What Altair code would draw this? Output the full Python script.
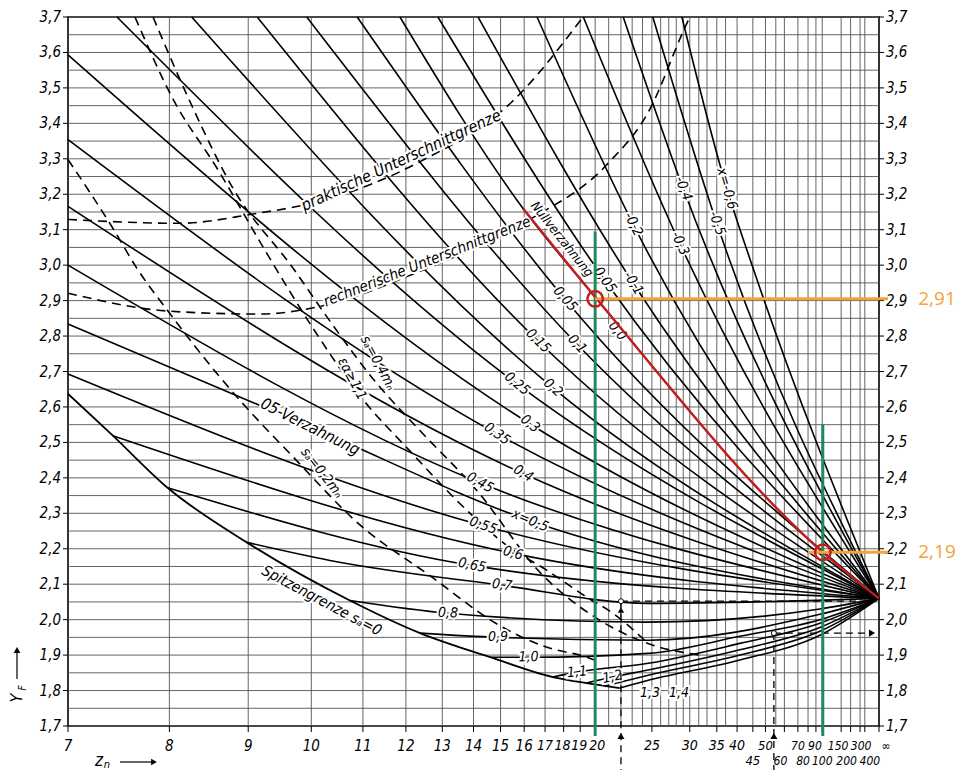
import math
import altair as alt
import pandas as pd

INF = math.inf
W, H = 811, 709
FONT = "DejaVu Sans Condensed, Liberation Sans Narrow, Liberation Sans, sans-serif"
GRID = "#555555"
RED = "#c41e1e"
GREEN = "#1f8a5c"
ORANGE = "#f2a33a"

# ---------------- data ----------------
LINE_X = [-0.6, -0.5, -0.4, -0.3, -0.2, -0.1, -0.05, 0.0, 0.05, 0.1, 0.15, 0.2, 0.25,
          0.3, 0.35, 0.4, 0.45, 0.5, 0.55, 0.6, 0.65, 0.7, 0.8, 0.9, 1.0, 1.1, 1.2, 1.3, 1.4]
LINE_Z = [
    [28.8, 37.3, 45.1, INF],
    [25.1, 35.0, INF],
    [22.2, 29.0, INF],
    [19.2, 28.5, INF],
    [16.6, 23.1, INF],
    [14.16, 23.1, INF],
    [12.87, 20.6, INF],
    [11.85, 15.95, 20.0, 101.0, INF],
    [10.88, 18.08, INF],
    [9.92, 18.8, INF],
    [9.13, 16.65, INF],
    [8.26, 17.41, INF],
    [7.45, 15.68, INF],
    [7.0, 16.27, INF],
    [7.0, 14.86, INF],
    [7.0, 15.95, INF],
    [7.0, 14.23, INF],
    [7.0, 9.98, 16.27, INF],
    [7.0, 14.34, INF],
    [7.41, 15.51, INF],
    [7.98, 13.95, INF],
    [8.98, 10.34, 15.06, 24.6, INF],
    [10.73, 13.17, 24.6, 96.0, INF],
    [12.37, 14.9, 24.6, 96.0, INF],
    [14.6, 16.2, 24.6, 40.8, 96.0, INF],
    [17.4, 18.8, 24.6, 40.8, 96.0, INF],
    [19.4, 21.3, 24.6, 40.8, 96.0, INF],
    [20.7, 24.6, 40.8, 96.0, INF],
    [21.9, 24.6, 40.8, 96.0, INF],
]
LINE_Y = [
    [3.70, 3.216, 2.991, 2.06],
    [3.70, 3.118, 2.06],
    [3.70, 3.216, 2.06],
    [3.70, 3.061, 2.06],
    [3.70, 3.115, 2.06],
    [3.70, 2.949, 2.06],
    [3.70, 2.963, 2.06],
    [3.70, 3.16, 2.91, 2.19, 2.06],
    [3.70, 2.904, 2.06],
    [3.70, 2.777, 2.06],
    [3.70, 2.786, 2.06],
    [3.70, 2.654, 2.06],
    [3.70, 2.665, 2.06],
    [3.593, 2.552, 2.06],
    [3.354, 2.524, 2.06],
    [3.166, 2.412, 2.06],
    [3.00, 2.386, 2.06],
    [2.834, 2.544, 2.279, 2.06],
    [2.693, 2.265, 2.06],
    [2.519, 2.187, 2.06],
    [2.372, 2.153, 2.06],
    [2.218, 2.167, 2.097, 2.046, 2.06],
    [2.054, 2.018, 1.993, 2.03, 2.06],
    [1.962, 1.950, 1.942, 2.015, 2.06],
    [1.894, 1.894, 1.905, 1.953, 2.00, 2.06],
    [1.838, 1.852, 1.877, 1.933, 1.99, 2.06],
    [1.821, 1.838, 1.858, 1.915, 1.978, 2.06],
    [1.813, 1.843, 1.90, 1.967, 2.06],
    [1.807, 1.829, 1.886, 1.956, 2.06],
]

# Nullverzahnung (red highlight)
RED_Z = [15.95, 20.0, 101.0, INF]
RED_Y = [3.16, 2.91, 2.19, 2.06]

# Spitzengrenze s_a = 0 (solid)
SPITZ_Z = [7.0, 7.41, 7.98, 8.98, 10.73, 12.37, 14.6, 17.4, 19.4, 20.7, 21.9]
SPITZ_Y = [2.637, 2.519, 2.372, 2.218, 2.054, 1.962, 1.894, 1.838, 1.821, 1.813, 1.807]

# dashed limit curves
DASH_NAMES = ["prakt", "rech", "sa02", "sa04", "eps"]
DASH_Z = [
    [7.0, 8.12, 9.03, 10.34, 12.37, 15.47, 19.18],
    [7.0, 8.01, 9.17, 10.16, 12.37, 16.27, 20.87, 24.8, 28.96, 30.0],
    [7.0, 7.41, 7.65, 8.01, 8.58, 8.98, 9.64, 11.0, 12.56, 15.1, 17.1, 19.44, 20.35],
    [7.63, 8.04, 8.58, 9.28, 10.03, 10.94, 12.10, 13.78, 15.26, 17.10, 19.44, 21.34, 24.58],
    [7.82, 8.24, 8.79, 9.69, 10.34, 11.26, 12.37, 14.12, 16.75, 20.35, 25.12, 31.7],
]
DASH_Y = [
    [3.129, 3.118, 3.143, 3.188, 3.292, 3.461, 3.70],
    [2.921, 2.870, 2.862, 2.884, 2.983, 3.129, 3.284, 3.441, 3.658, 3.70],
    [3.298, 3.104, 2.991, 2.862, 2.693, 2.597, 2.468, 2.260, 2.130, 1.978, 1.922, 1.894, 1.880],
    [3.70, 3.469, 3.272, 3.031, 2.822, 2.631, 2.476, 2.308, 2.209, 2.139, 2.063, 2.018, 1.933],
    [3.70, 3.461, 3.216, 2.991, 2.842, 2.673, 2.533, 2.364, 2.133, 1.998, 1.928, 1.900],
]

# line labels
LAB_TEXT = ["x=-0,6", "-0,5", "-0,4", "-0,3", "-0,2", "-0,1", "-0,05", "0,0", "0,05", "0,1",
            "0,15", "0,2", "0,25", "0,3", "0,35", "0,4", "0,45", "x=0,5", "0,55", "0,6",
            "0,65", "0,7", "0,8", "0,9", "1,0", "1,1", "1,2", "1,3", "1,4"]
LAB_Z = [37.3, 35.0, 29.0, 28.5, 23.1, 23.1, 20.6, 21.7, 18.08, 18.8, 16.65, 17.41, 15.68,
         16.27, 14.86, 15.95, 14.23, 16.27, 14.34, 15.51, 13.95, 15.06, 13.17, 14.9, 16.2,
         18.8, 21.3, 24.8, 28.4]
LAB_Y = [3.216, 3.118, 3.216, 3.061, 3.115, 2.949, 2.963, 2.814, 2.904, 2.777, 2.786, 2.654,
         2.665, 2.552, 2.524, 2.412, 2.386, 2.279, 2.265, 2.187, 2.153, 2.097, 2.018, 1.950,
         1.894, 1.852, 1.838, 1.793, 1.793]
LAB_ANGLE = [74, 71, 70, 66, 63, 58, 55, 50, 49, 48, 45, 43, 40, 39, 36, 32, 29, 23, 20, 16,
             12, 8, 3, 0, -2, -6, -11, 0, 0]

BIG_TEXT = ["praktische Unterschnittgrenze", "rechnerische Unterschnittgrenze", "Nullverzahnung",
            "05-Verzahnung", "Spitzengrenze sₐ=0", "sₐ=0,2mₙ", "sₐ=0,4mₙ", "εα≥1,1"]
BIG_Z = [11.88, 12.56, 17.9, 9.98, 10.19, 10.19, 11.33, 10.77]
BIG_Y = [3.295, 3.011, 3.073, 2.544, 2.054, 2.414, 2.724, 2.679]
BIG_ANGLE = [-25, -21.6, 51.6, 26.6, 28, 52, 62, 62]
BIG_SIZE = [16, 15, 13, 16, 15, 14, 14, 14]

# grid and axes
HGRID = [round(1.70 + 0.05 * k, 2) for k in range(41)]
YTICKS = [round(1.70 + 0.1 * k, 1) for k in range(21)]
VGRID_Z = [8, 9, 10, 11, 12, 13, 14, 15, 16, 17, 18, 19, 20, 21, 22, 23, 24, 25, 26, 27, 28,
           29, 30, 31.5, 33, 35, 37, 40, 45, 50, 55, 60, 70, 80, 90, 100, 150, 200, 300, 400]
# x tick labels: value, text, row (0 = upper, 1 = lower)
XLAB_Z = [7, 8, 9, 10, 11, 12, 13, 14, 15, 16, 17, 18, 19, 20, 25, 30, 35, 40, 45, 50,
          60, 70, 80, 90, 100, 150, 200, 300, 400, INF]
XLAB_T = ["7", "8", "9", "10", "11", "12", "13", "14", "15", "16", "17", "18", "19", "20",
          "25", "30", "35", "40", "45", "50", "60", "70", "80", "90", "100", "150", "200",
          "300", "400", "∞"]
XLAB_ROW = [0, 0, 0, 0, 0, 0, 0, 0, 0, 0, 0, 0, 0, 0, 0, 0, 0, 0, 1, 0, 1, 0, 1, 0, 1, 0, 1,
            0, 1, 0]

# style: label size and small sideways nudges (px) for crowded tick labels
XLAB_SIZE = [15] * 10 + [14] * 8 + [13, 13] + [12] * 10
XLAB_DX = [0] * 11 + [-1, -1, 2] + [0] * 6 + [-4, 0, -5, -1, 0, -3, -4, 1, 5, 7]

# worked example
GREEN_Z = [20.0, 101.0]
GREEN_TOP = [3.095, 2.552]
MARK_Z = [20.0, 101.0]
MARK_Y = [2.905, 2.19]
ORANGE_FROM_Z = [20.0, 80.0]
ORANGE_TEXT = ["2,91", "2,19"]
ARROW_Z = [22.0, 54.0]
ARROW_Y = [2.052, 1.962]
ARROW_END_Z = [630.0, 940.0]


def U(z):
    return 0.0 if z == INF else 1.0 / z


XS = alt.Scale(domain=[0, 1 / 7], reverse=True, nice=False, zero=False)
YS = alt.Scale(domain=[1.7, 3.7], nice=False, zero=False)


def EX(f="u"):
    return alt.X(f"{f}:Q", scale=XS, axis=None)


def EY(f="Y"):
    return alt.Y(f"{f}:Q", scale=YS, axis=None)


def curves(names, zs, ys):
    rows = []
    for n, zl, yl in zip(names, zs, ys):
        for j, (z, y) in enumerate(zip(zl, yl)):
            rows.append({"id": str(n), "j": j, "u": U(z), "Y": y})
    return pd.DataFrame(rows)


one = pd.DataFrame({"a": [0]})
layers = []

# grid
layers.append(alt.Chart(pd.DataFrame({"Y": HGRID})).mark_rule(color=GRID, strokeWidth=0.9).encode(y=EY()))
layers.append(alt.Chart(pd.DataFrame({"u": [U(z) for z in VGRID_Z]})).mark_rule(color=GRID, strokeWidth=0.9).encode(x=EX()))

# axis ticks and labels
layers.append(alt.Chart(pd.DataFrame({"Y": YTICKS})).mark_rule(color="black", strokeWidth=1).encode(
    y=EY(), x=alt.value(-5), x2=alt.value(0)))
layers.append(alt.Chart(pd.DataFrame({"Y": YTICKS})).mark_rule(color="black", strokeWidth=1).encode(
    y=EY(), x=alt.value(W), x2=alt.value(W + 5)))
ylab = pd.DataFrame({"Y": YTICKS, "t": [f"{v:.1f}".replace(".", ",") for v in YTICKS]})
layers.append(alt.Chart(ylab).mark_text(align="right", baseline="middle", font=FONT, fontStyle="italic",
                                        fontSize=15).encode(y=EY(), x=alt.value(-7), text="t:N"))
layers.append(alt.Chart(ylab).mark_text(align="left", baseline="middle", font=FONT, fontStyle="italic",
                                        fontSize=15).encode(y=EY(), x=alt.value(W + 7), text="t:N"))

xl = pd.DataFrame({"u": [U(z) for z in XLAB_Z], "t": XLAB_T})
layers.append(alt.Chart(xl).mark_rule(color="black", strokeWidth=1).encode(
    x=EX(), y=alt.value(H), y2=alt.value(H + 6)))
for i in range(len(XLAB_Z)):
    layers.append(alt.Chart(xl.iloc[[i]]).mark_text(
        align="center", baseline="middle", font=FONT, fontStyle="italic",
        fontSize=XLAB_SIZE[i], dx=XLAB_DX[i]).encode(
        x=EX(), y=alt.value(H + (20 if XLAB_ROW[i] == 0 else 35)), text="t:N"))

# axis titles
layers.append(alt.Chart(one).mark_text(text="Y", angle=270, font=FONT, fontStyle="italic", fontSize=16).encode(
    x=alt.value(-51), y=alt.value(H - 28)))
layers.append(alt.Chart(one).mark_text(text="F", angle=270, font=FONT, fontStyle="italic", fontSize=10).encode(
    x=alt.value(-45), y=alt.value(H - 38)))
layers.append(alt.Chart(one).mark_rule(color="black", strokeWidth=1.2).encode(
    x=alt.value(-51), y=alt.value(H - 47), y2=alt.value(H - 74)))
layers.append(alt.Chart(one).mark_point(shape="triangle-up", filled=True, color="black", size=45, opacity=1).encode(
    x=alt.value(-51), y=alt.value(H - 76)))
layers.append(alt.Chart(one).mark_text(text="z", font=FONT, fontStyle="italic", fontSize=17).encode(
    x=alt.value(31), y=alt.value(H + 35)))
layers.append(alt.Chart(one).mark_text(text="n", font=FONT, fontStyle="italic", fontSize=11).encode(
    x=alt.value(39), y=alt.value(H + 39)))
layers.append(alt.Chart(one).mark_rule(color="black", strokeWidth=1.2).encode(
    x=alt.value(52), x2=alt.value(84), y=alt.value(H + 36)))
layers.append(alt.Chart(one).mark_point(shape="triangle-right", filled=True, color="black", size=45, opacity=1).encode(
    x=alt.value(86), y=alt.value(H + 36)))

# dashed limit curves
layers.append(alt.Chart(curves(DASH_NAMES, DASH_Z, DASH_Y)).mark_line(
    color="black", strokeWidth=1.6, strokeDash=[9, 6], interpolate="monotone").encode(
    x=EX(), y=EY(), detail="id:N", order="j:Q"))

# profile-shift lines and tip limit
layers.append(alt.Chart(curves(LINE_X, LINE_Z, LINE_Y)).mark_line(
    color="black", strokeWidth=1.6, interpolate="monotone").encode(
    x=EX(), y=EY(), detail="id:N", order="j:Q"))
layers.append(alt.Chart(curves(["spitz"], [SPITZ_Z], [SPITZ_Y])).mark_line(
    color="black", strokeWidth=1.8, interpolate="monotone").encode(
    x=EX(), y=EY(), detail="id:N", order="j:Q"))

# labels (white halo then text)
lab = pd.DataFrame({"u": [U(z) for z in LAB_Z], "Y": LAB_Y, "t": LAB_TEXT,
                    "ang": [a % 360 for a in LAB_ANGLE], "s": [14] * len(LAB_TEXT)})
big = pd.DataFrame({"u": [U(z) for z in BIG_Z], "Y": BIG_Y, "t": BIG_TEXT,
                    "ang": [a % 360 for a in BIG_ANGLE], "s": BIG_SIZE})
labs = pd.concat([lab, big])
enc = dict(x=EX(), y=EY(), text="t:N", angle=alt.Angle("ang:Q", scale=None),
           size=alt.Size("s:Q", scale=None, legend=None))
layers.append(alt.Chart(labs).mark_text(font=FONT, fontStyle="italic", baseline="middle", align="center",
                                        fill="white", stroke="white", strokeWidth=4).encode(**enc))
layers.append(alt.Chart(labs).mark_text(font=FONT, fontStyle="italic", baseline="middle", align="center",
                                        color="black").encode(**enc))

# reading arrows (dashed)
arr = pd.DataFrame({"u": [U(z) for z in ARROW_Z], "Y": ARROW_Y, "u2": [U(z) for z in ARROW_END_Z]})
layers.append(alt.Chart(arr).mark_rule(color="black", strokeWidth=1.3, strokeDash=[7, 5]).encode(
    x=EX(), y=EY(), y2=alt.value(H + 44)))
layers.append(alt.Chart(arr).mark_rule(color="black", strokeWidth=1.3, strokeDash=[7, 5]).encode(
    x=EX(), x2=alt.X2("u2:Q"), y=EY()))
layers.append(alt.Chart(arr).mark_point(shape="triangle-up", filled=True, color="black", size=50, opacity=1).encode(
    x=EX(), y=alt.value(H + 10)))
layers.append(alt.Chart(arr.iloc[[0]]).mark_point(shape="triangle-up", filled=True, color="black", size=40, opacity=1).encode(
    x=EX(), y=alt.value(H - 116)))
layers.append(alt.Chart(arr.iloc[[1]]).mark_point(shape="triangle-right", filled=True, color="black", size=50, opacity=1).encode(
    x=alt.value(W - 7), y=EY()))
layers.append(alt.Chart(arr).mark_point(shape="circle", filled=True, fill="white", stroke="black", strokeWidth=1,
                                        size=25, opacity=1).encode(x=EX(), y=EY()))

# worked example overlay
layers.append(alt.Chart(pd.DataFrame({"u": [U(z) for z in GREEN_Z], "Y": GREEN_TOP})).mark_rule(
    color=GREEN, strokeWidth=3).encode(x=EX(), y=EY(), y2=alt.value(H + 10)))
layers.append(alt.Chart(curves(["red"], [RED_Z], [RED_Y])).mark_line(
    color=RED, strokeWidth=2.4, interpolate="monotone").encode(x=EX(), y=EY(), detail="id:N", order="j:Q"))
org = pd.DataFrame({"u": [U(z) for z in ORANGE_FROM_Z], "Y": MARK_Y, "t": ORANGE_TEXT})
layers.append(alt.Chart(org).mark_rule(color=ORANGE, strokeWidth=3).encode(
    x=EX(), x2=alt.value(W + 9), y=EY()))
layers.append(alt.Chart(org).mark_text(color=ORANGE, font="Open Sans", fontSize=19, align="center",
                                       baseline="middle").encode(x=alt.value(W + 58), y=EY(), text="t:N"))
layers.append(alt.Chart(pd.DataFrame({"u": [U(z) for z in MARK_Z], "Y": MARK_Y})).mark_point(
    shape="circle", filled=False, color=RED, strokeWidth=2.5, size=240, opacity=1).encode(x=EX(), y=EY()))

chart = alt.layer(*layers).properties(
    width=W, height=H,
    padding={"left": 60, "top": 9, "right": 78, "bottom": 44},
    autosize=alt.AutoSizeParams(type="none"),
    background="white",
).configure_view(stroke="black", strokeWidth=1.6)

chart.save("out.html", embed_options={"renderer": "svg", "actions": False})
